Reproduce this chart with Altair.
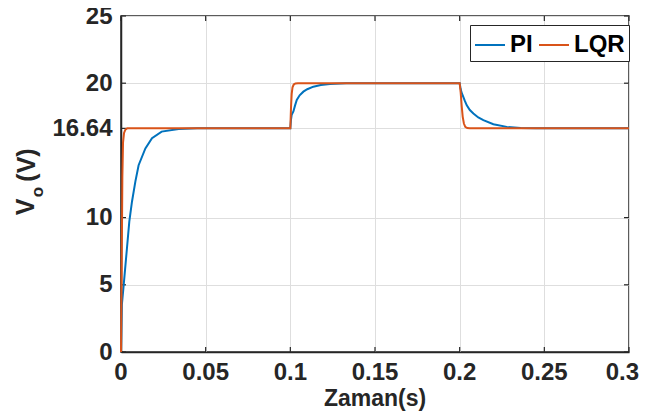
import altair as alt
import pandas as pd

# ---- data ----
pi_t = [0, 0.0005, 0.0016, 0.0035, 0.0049, 0.0065, 0.0085, 0.0104, 0.0144, 0.0183, 0.024, 0.034, 0.045,
        0.1, 0.1004, 0.1008, 0.1018, 0.1028, 0.1038, 0.1055, 0.1077, 0.110, 0.1136, 0.118, 0.1234, 0.133,
        0.2, 0.2004, 0.2010, 0.2018, 0.2030, 0.2042, 0.206, 0.2081, 0.211, 0.214, 0.2199, 0.2278, 0.236, 0.245, 0.3]
pi_v = [0, 3.5, 5.0, 7.7, 9.7, 11.2, 12.7, 13.9, 15.15, 15.9, 16.4, 16.6, 16.64,
        16.64, 17.3, 17.65, 17.9, 18.35, 18.75, 19.1, 19.37, 19.55, 19.74, 19.87, 19.94, 20.0,
        20.0, 19.7, 19.35, 19.1, 18.7, 18.35, 18.0, 17.74, 17.45, 17.25, 16.95, 16.75, 16.67, 16.64, 16.64]

lqr_t = [0, 0.0004, 0.0008, 0.0012, 0.0018, 0.0026, 0.0036,
         0.1, 0.1004, 0.1008, 0.1013, 0.102, 0.103, 0.1045,
         0.2, 0.2006, 0.2012, 0.2018, 0.2025, 0.2033, 0.2045, 0.206, 0.3]
lqr_v = [0, 6.0, 13.0, 15.6, 16.3, 16.55, 16.64,
         16.64, 18.2, 19.2, 19.7, 19.9, 19.98, 20.0,
         20.0, 19.3, 18.3, 17.5, 17.0, 16.75, 16.66, 16.64, 16.64]

series = ["PI", "LQR"]
colors = ["#0072BD", "#D95319"]
x_ticks = [0, 0.05, 0.1, 0.15, 0.2, 0.25, 0.3]
x_labels = ["0", "0.05", "0.1", "0.15", "0.2", "0.25", "0.3"]
y_ticks = [0, 5, 10, 16.64, 20, 25]

df = pd.concat([
    pd.DataFrame({"t": pi_t, "v": pi_v, "s": "PI"}),
    pd.DataFrame({"t": lqr_t, "v": lqr_v, "s": "LQR"}),
], ignore_index=True)

W, H = 508, 336
FONT = "Liberation Sans"
DARK = "#262626"
FS = 24

x_scale = alt.Scale(domain=[0, 0.3], nice=False, zero=False)
y_scale = alt.Scale(domain=[0, 25], nice=False, zero=False)

x_enc = alt.X("t:Q", scale=x_scale, axis=alt.Axis(
    values=x_ticks, labels=False, title=None, grid=True, ticks=False,
    domainColor=DARK, domainWidth=1.5, gridColor="#dedede", gridWidth=1))
y_enc = alt.Y("v:Q", scale=y_scale, axis=alt.Axis(
    values=y_ticks, labelExpr="'' + datum.value", title=None, grid=True, ticks=False,
    labelPadding=9, labelFont=FONT, labelFontSize=FS, labelFontWeight="bold",
    labelColor=DARK, domainColor=DARK, domainWidth=1.5, gridColor="#dedede", gridWidth=1))

lines = alt.Chart(df).mark_line(strokeWidth=2).encode(
    x=x_enc, y=y_enc,
    color=alt.Color("s:N", scale=alt.Scale(domain=series, range=colors), sort=series,
                    legend=alt.Legend(orient="none", legendX=349, legendY=9, direction="horizontal",
                                      title=None, strokeColor=DARK, fillColor="white", padding=4,
                                      symbolType="stroke", symbolSize=900, symbolStrokeWidth=2,
                                      labelFontSize=FS, labelFont=FONT, labelFontWeight="bold",
                                      labelColor="black", labelOffset=4, columnPadding=2)),
)

xt = pd.DataFrame({"t": x_ticks, "lab": x_labels})
yt = pd.DataFrame({"v": y_ticks})
tick_style = dict(color=DARK, strokeWidth=1.2)
xb = alt.Chart(xt).mark_rule(**tick_style).encode(x=x_enc, y=alt.value(H), y2=alt.value(H - 5))
xtop = alt.Chart(xt).mark_rule(**tick_style).encode(x=x_enc, y=alt.value(0), y2=alt.value(5))
yl = alt.Chart(yt).mark_rule(**tick_style).encode(y=y_enc, x=alt.value(0), x2=alt.value(5))
yr = alt.Chart(yt).mark_rule(**tick_style).encode(y=y_enc, x=alt.value(W), x2=alt.value(W - 5))

txt_style = dict(font=FONT, fontWeight="bold", color=DARK, baseline="alphabetic")
xl_main = alt.Chart(xt.iloc[:-1]).mark_text(align="center", fontSize=FS, **txt_style).encode(
    x=x_enc, y=alt.value(364), text="lab:N")
xl_last = alt.Chart(xt.iloc[-1:]).mark_text(align="right", dx=10, fontSize=FS, **txt_style).encode(
    x=x_enc, y=alt.value(364), text="lab:N")

one = alt.Data(values=[{}])
xtitle = alt.Chart(one).mark_text(text="Zaman(s)", align="center", fontSize=23, **txt_style).encode(
    x=alt.value(W / 2), y=alt.value(390))

def label(txt, x, y, size):
    return alt.Chart(one).mark_text(text=txt, angle=270, align="center", baseline="middle",
                                    font=FONT, fontSize=size, fontWeight="bold", color=DARK).encode(
        x=alt.value(x), y=alt.value(y))

ylab = label("V", -95, 191, 25) + label("o", -83, 176, 17) + label("(V)", -94, 149, 25)

chart = alt.layer(xb, xtop, yl, yr, lines, xl_main, xl_last, xtitle, ylab).properties(
    width=W, height=H,
    autosize=alt.AutoSizeParams(type="none"),
    padding={"left": 113, "top": 8, "right": 10, "bottom": 59},
).configure_view(stroke=DARK, strokeWidth=1.5)

chart.save("out.html", embed_options={"renderer": "svg", "actions": False})
